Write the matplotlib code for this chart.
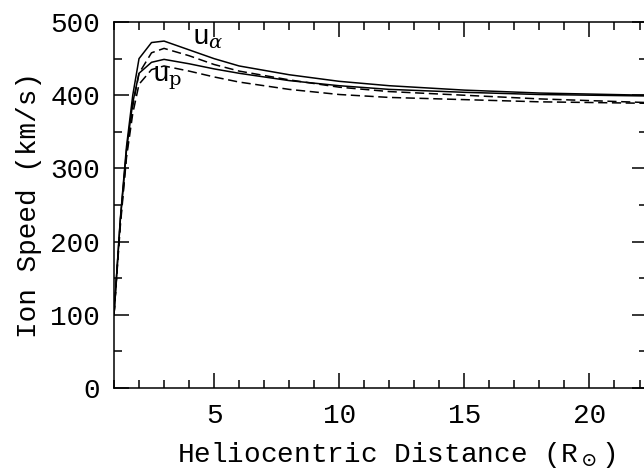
import matplotlib
matplotlib.use("Agg")
import matplotlib.pyplot as plt
from matplotlib.ticker import MultipleLocator

plt.rcParams["font.family"] = "Liberation Mono"
plt.rcParams["mathtext.fontset"] = "dejavuserif"

# heliocentric distance grid (R_sun)
r = [1.0, 1.25, 1.5, 1.75, 2.0, 2.5, 3.0, 4.0, 5.0, 6.0, 8.0, 10.0, 12.0, 15.0, 18.0, 22.3]

# alpha particle speed, two models (km/s)
u_alpha_solid = [100, 230, 330, 400, 450, 472, 474, 462, 450, 440, 428, 419, 413, 407, 403, 400]
u_alpha_dash = [100, 225, 320, 385, 430, 458, 464, 454, 442, 433, 421, 411, 405, 400, 395, 390]

# proton speed, two models (km/s)
u_p_solid = [100, 228, 325, 390, 430, 445, 449, 443, 436, 430, 420, 413, 408, 404, 401, 399]
u_p_dash = [100, 220, 315, 375, 415, 435, 440, 433, 425, 418, 408, 401, 397, 394, 391, 389]

fig = plt.figure(figsize=(6.44, 4.69), dpi=100)
ax = fig.add_axes([0.177, 0.1727, 1.0047 - 0.177, 0.953 - 0.1727])

lw = 1.1
ax.plot(r, u_alpha_solid, color="black", lw=lw)
ax.plot(r, u_alpha_dash, color="black", lw=lw, dashes=(6, 3))
ax.plot(r, u_p_solid, color="black", lw=lw)
ax.plot(r, u_p_dash, color="black", lw=lw, dashes=(6, 3))

ax.text(4.12, 469, r"u$_\alpha$", fontsize=20, ha="left", va="baseline")
ax.text(2.52, 419, r"u$_\mathrm{p}$", fontsize=20, ha="left", va="baseline")

ax.set_xlim(1, 22.3)
ax.set_ylim(0, 500)
ax.xaxis.set_major_locator(MultipleLocator(5))
ax.xaxis.set_minor_locator(MultipleLocator(1))
ax.yaxis.set_major_locator(MultipleLocator(100))
ax.yaxis.set_minor_locator(MultipleLocator(50))

ax.tick_params(which="both", direction="in", top=True, right=True,
               width=1.1, labelsize=20)
ax.tick_params(axis="y", pad=10)
ax.tick_params(axis="x", pad=11)
ax.tick_params(which="major", length=10.5)
ax.tick_params(which="minor", length=5.5)
for s in ax.spines.values():
    s.set_linewidth(1.1)

ax.set_xlabel(r"Heliocentric Distance (R$_\odot$)", fontsize=20, labelpad=8)
ax.xaxis.label.set_x(0.53)
ax.set_ylabel("Ion Speed (km/s)", fontsize=20, labelpad=6)

fig.savefig("out.png", dpi=100)
